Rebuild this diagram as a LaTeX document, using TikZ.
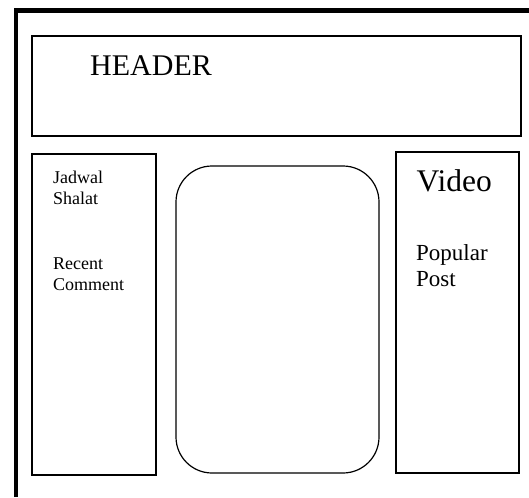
\documentclass[tikz,border=0pt]{standalone}
\usepackage{fontspec}
\setmainfont{Liberation Serif}
\usetikzlibrary{positioning}

\tikzset{
  panel/.style={draw, line width=1.2pt},
  paneltext/.style={anchor=base west, inner sep=0pt, align=left},
}

\begin{document}
\begin{tikzpicture}[x=1pt, y=-1pt]
\useasboundingbox (0,0) rectangle (529,497);
% page frame
\draw[line width=4.5pt] (16,497) -- (16,10.5) -- (529,10.5);
% header
\draw[panel] (32,36) rectangle (521,136);
\node[paneltext, font=\fontsize{30}{34}\selectfont] (header) at (90,76) {HEADER};
% left column
\draw[panel] (32,154) rectangle (156,475);
\node[paneltext, font=\fontsize{18}{20.7}\selectfont] (jadwal) at (53,204) {Jadwal\\Shalat};
\node[paneltext, font=\fontsize{18}{20.7}\selectfont] (recent) at (53,290) {Recent\\Comment};
% content
\draw[panel, rounded corners=36pt] (176,166) rectangle (379,473);
% right column
\draw[panel] (396,152) rectangle (519,473);
\node[paneltext, font=\fontsize{31.5}{34}\selectfont] (video) at (416.5,191.7) {Video};
\node[paneltext, font=\fontsize{23}{26.7}\selectfont] (popular) at (416,286.7) {Popular\\Post};
\end{tikzpicture}
\end{document}
